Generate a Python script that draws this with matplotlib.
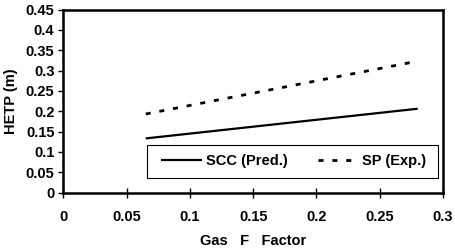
import matplotlib
matplotlib.use("Agg")
import matplotlib.pyplot as plt
from matplotlib.patches import Rectangle

plt.rcParams['font.family'] = ['Liberation Sans', 'DejaVu Sans']
plt.rcParams['font.weight'] = 'bold'
plt.rcParams['lines.scale_dashes'] = False

gas_f = [0.065, 0.28]
scc_pred = [0.133, 0.206]
sp_gas_f = [0.065, 0.275]
sp_exp = [0.193, 0.320]
xticks = [0, 0.05, 0.1, 0.15, 0.2, 0.25, 0.3]
xticklabels = ['0', '0.05', '0.1', '0.15', '0.2', '0.25', '0.3']
yticks = [0, 0.05, 0.1, 0.15, 0.2, 0.25, 0.3, 0.35, 0.4, 0.45]
yticklabels = ['0', '0.05', '0.1', '0.15', '0.2', '0.25', '0.3', '0.35', '0.4', '0.45']

FS = 10.5
fig = plt.figure(figsize=(4.56, 2.52), dpi=100)
ax = fig.add_axes([63.5/456, 1 - 192.5/252, (443 - 63.5)/456, (192.5 - 9.5)/252])

ax.plot(gas_f, scc_pred, color='black', lw=1.6, solid_capstyle='butt', label='SCC (Pred.)')
ax.plot(sp_gas_f, sp_exp, color='black', lw=2.0, linestyle=(0, (3.6, 6.4)),
        dash_capstyle='butt', label='SP (Exp.)')

ax.set_xlim(0, 0.3)
ax.set_ylim(0, 0.45)
ax.set_xticks(xticks)
ax.set_xticklabels(xticklabels)
ax.set_yticks(yticks)
ax.set_yticklabels(yticklabels)
for s in ax.spines.values():
    s.set_linewidth(1.8)
ax.tick_params(axis='x', direction='inout', length=7, width=1, labelsize=FS, pad=9)
ax.tick_params(axis='y', direction='out', length=3.5, width=1, labelsize=FS, pad=3)
for lab in ax.get_xticklabels() + ax.get_yticklabels():
    lab.set_fontweight('bold')

ax.set_xlabel('Gas   F   Factor', fontsize=FS, fontweight='bold', labelpad=7)
ax.set_ylabel('HETP (m)', fontsize=FS, fontweight='bold', labelpad=5.5)

# legend frame
x0 = (147 - 63.5) / 379.5
x1 = (437.7 - 63.5) / 379.5
y0 = (192.5 - 177.7) / 183
y1 = (192.5 - 145) / 183
ax.add_patch(Rectangle((x0, y0), x1 - x0, y1 - y0, transform=ax.transAxes,
                       facecolor='white', edgecolor='black', lw=0.8, zorder=4))
leg = ax.legend(loc='center', bbox_to_anchor=((x0 + x1) / 2 + 0.004, (y0 + y1) / 2),
                ncol=2, frameon=False, prop={'size': FS, 'weight': 'bold'},
                handlelength=2.8, borderaxespad=0, borderpad=0,
                columnspacing=2.1, handletextpad=0.25)
leg.set_zorder(5)

fig.savefig('out.png', dpi=100)
